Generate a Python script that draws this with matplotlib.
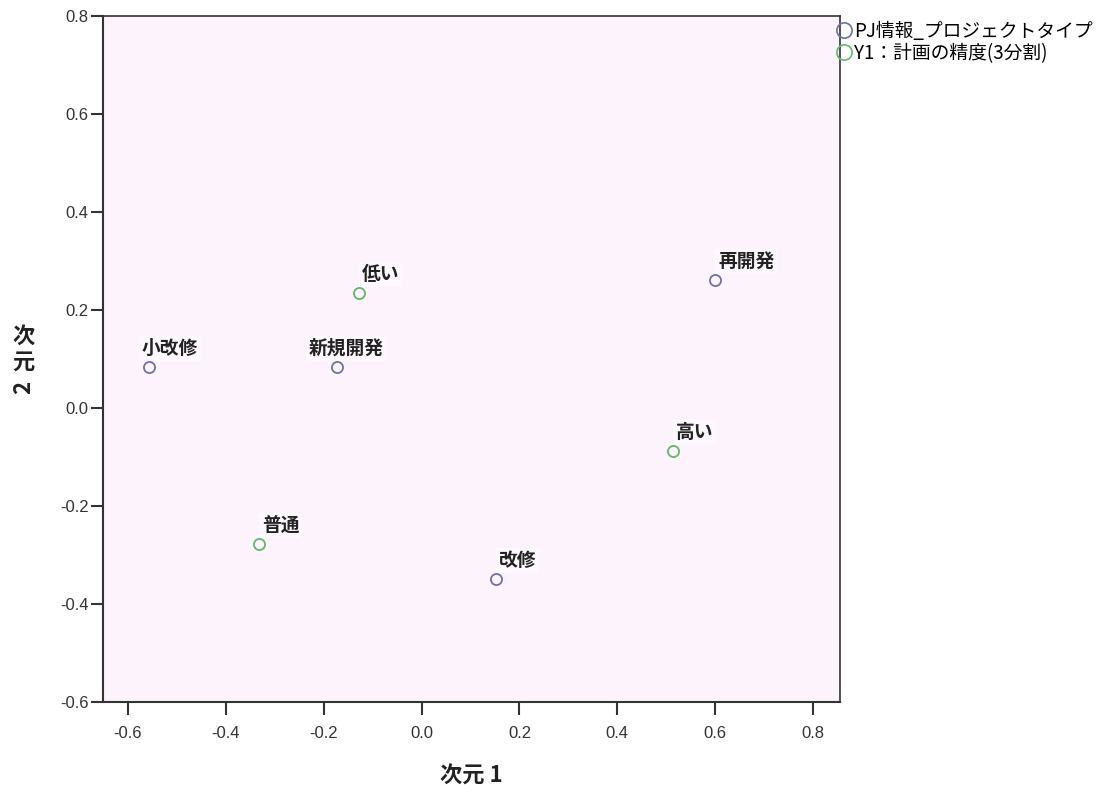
import matplotlib
matplotlib.use("Agg")
import matplotlib.pyplot as plt
from matplotlib.lines import Line2D

plt.rcParams['font.family'] = ['Noto Sans CJK JP', 'DejaVu Sans']

# category points (dimension 1, dimension 2)
type_names = ['小改修', '新規開発', '改修', '再開発']
type_x = [-0.557, -0.173, 0.152, 0.600]
type_y = [0.084, 0.084, -0.349, 0.261]

acc_names = ['低い', '普通', '高い']
acc_x = [-0.128, -0.332, 0.514]
acc_y = [0.235, -0.278, -0.088]

legend_labels = ['PJ情報_プロジェクトタイプ', 'Y1：計画の精度(3分割)']
xticks = [-0.6, -0.4, -0.2, 0.0, 0.2, 0.4, 0.6, 0.8]
yticks = [-0.6, -0.4, -0.2, 0.0, 0.2, 0.4, 0.6, 0.8]

blue = '#6a72a8'
green = '#62b86a'
ink = '#222222'

fig = plt.figure(figsize=(11.18, 7.85), dpi=100)
ax = fig.add_axes([103/1118, 1-702/785, (840-103)/1118, (702-16)/785])
ax.set_facecolor('#fcf3fc')

ax.plot(type_x, type_y, 'o', ms=8, mfc='none', mec=blue, mew=1.3)
ax.plot(acc_x, acc_y, 'o', ms=8, mfc='none', mec=green, mew=1.3)

# label offsets in pixels (left edge, bottom) relative to the point
offs = {'小改修': (-7, 9), '新規開発': (-28, 9)}
for names, xs, ys in [(type_names, type_x, type_y), (acc_names, acc_x, acc_y)]:
    for n, x, y in zip(names, xs, ys):
        dx, dy = offs.get(n, (3, 9))
        ax.annotate(n, (x, y), xytext=(dx, dy), textcoords='offset pixels',
                    ha='left', va='bottom', fontsize=13.5, fontweight='bold', color=ink,
                    bbox=dict(boxstyle='square,pad=0.15', fc='white', ec='none', alpha=0.45))

ax.set_xlim(-0.651, 0.855)
ax.set_ylim(-0.6, 0.8)
ax.set_xticks(xticks)
ax.set_yticks(yticks)
ax.set_xticklabels(['%.1f' % v for v in xticks], family='Liberation Sans')
ax.set_yticklabels(['%.1f' % v for v in yticks], family='Liberation Sans')
ax.tick_params(direction='out', length=9, width=1.5, labelsize=12,
               labelcolor='#333333', color='#333333')
ax.tick_params(axis='x', pad=8)
ax.tick_params(axis='y', pad=1.5)
for s in ax.spines.values():
    s.set_color('#333333')
    s.set_linewidth(1.5)
ax.spines['top'].set_linewidth(1.2)
ax.spines['right'].set_linewidth(1.2)

ax.set_xlabel('次元 1', fontsize=16, fontweight='bold', color=ink, labelpad=17)

# vertical y label: upright kanji, rotated digit
fig.text(23/1118, 1-336/785, '次', fontsize=16, fontweight='bold', color=ink,
         ha='center', va='center')
fig.text(23/1118, 1-362/785, '元', fontsize=16, fontweight='bold', color=ink,
         ha='center', va='center')
fig.text(24/1118, 1-387/785, '2', fontsize=16, fontweight='bold', color=ink,
         ha='center', va='center', rotation=90)

handles = [Line2D([], [], ls='none', marker='o', ms=11, mfc='none', mec=blue, mew=1.2),
           Line2D([], [], ls='none', marker='o', ms=11, mfc='none', mec=green, mew=1.2)]
fig.legend(handles, legend_labels, loc='upper left', bbox_to_anchor=(836/1118, 1-21/785),
           frameon=False, fontsize=13.5, handlelength=0.8, handletextpad=0.15,
           borderaxespad=0, borderpad=0, labelspacing=0.05)

fig.savefig('out.png', dpi=100)
